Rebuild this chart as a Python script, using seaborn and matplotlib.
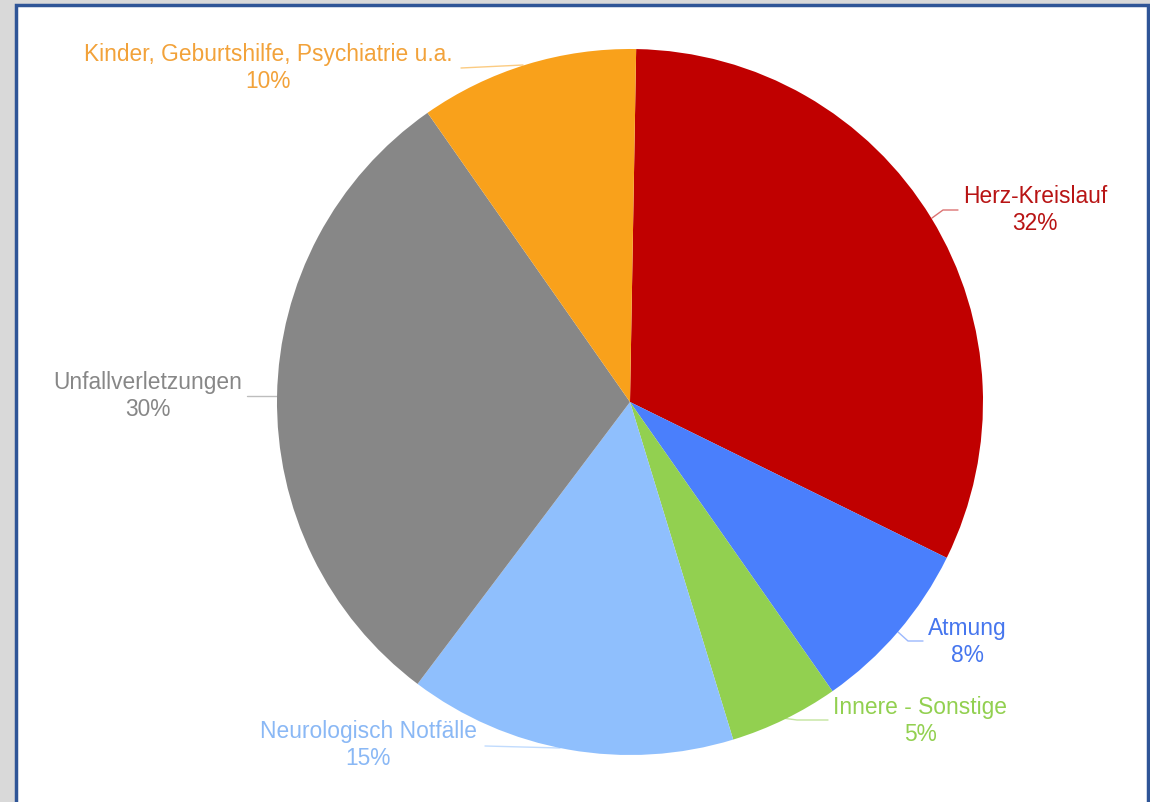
import matplotlib
matplotlib.use("Agg")
import matplotlib.pyplot as plt
from matplotlib.patches import Rectangle
import seaborn as sns

categories = ["Herz-Kreislauf", "Atmung", "Innere - Sonstige", "Neurologisch Notfälle",
              "Unfallverletzungen", "Kinder, Geburtshilfe, Psychiatrie u.a."]
values = [32, 8, 5, 15, 30, 10]
slice_colors = ["#c00000", "#4a7ffc", "#92d050", "#8fbffd", "#878787", "#f9a11b"]
text_colors = ["#b81414", "#4676ee", "#92d050", "#8ab8f5", "#878787", "#f2a23a"]

sns.set_theme(style="white")
plt.rcParams["font.family"] = ["Liberation Sans", "DejaVu Sans"]

W, H = 1150, 802
fig = plt.figure(figsize=(W / 100, H / 100), dpi=100)
fig.patch.set_facecolor("#d9d9d9")

# panel with blue border
fig.patches.append(Rectangle((16 / W, -0.05), (1148 - 16) / W, (H - 5) / H + 0.05,
                             transform=fig.transFigure, facecolor="white",
                             edgecolor="#2f5597", linewidth=2.5, zorder=-10))

# pixel layout
cx, cy, R = 630, 402, 353
ax = fig.add_axes([0, 0, 1, 1])
ax.set_zorder(5)
ax.patch.set_visible(False)

ax.pie(values, colors=slice_colors, startangle=89, counterclock=False,
       radius=1.0, center=(0, 0), wedgeprops=dict(linewidth=0))
ax.set_aspect("auto")
ax.set_xlim(-cx / R, (W - cx) / R)
ax.set_ylim(-(H - cy) / R, cy / R)
ax.axis("off")

def P(px, py):
    return ((px - cx) / R, (cy - py) / R)

label_pos = [(1035, 210), (967, 642), (920, 721), (368, 745), (148, 396), (268, 68)]
leader_paths = [
    [(932, 218), (943, 210), (958, 210)],
    [(898, 632), (908, 641), (923, 641)],
    [(782, 718), (797, 720), (828, 720)],
    [(560, 748), (485, 746)],
    [(278, 396), (247, 396)],
    [(523, 65), (461, 68)],
]

for cat, v, tc, sc, pos, path in zip(categories, values, text_colors, slice_colors,
                                     label_pos, leader_paths):
    x, y = P(*pos)
    ax.text(x, y, f"{cat}\n{v}%", color=tc, fontsize=16.4, ha="center", va="center",
            linespacing=1.2)
    pts = [P(*p) for p in path]
    ax.plot([p[0] for p in pts], [p[1] for p in pts], color=sc, alpha=0.55, lw=1.0)

fig.savefig("out.png", dpi=100, facecolor=fig.get_facecolor())
